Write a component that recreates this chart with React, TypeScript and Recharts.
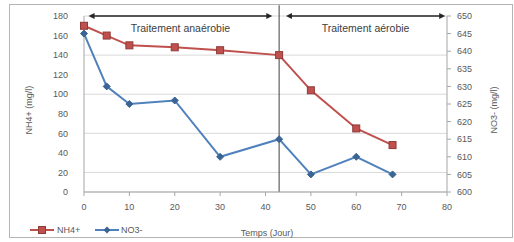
import React from 'react';
import { ComposedChart, Line, XAxis, YAxis, CartesianGrid, ReferenceLine } from 'recharts';

// temps (jour)
const days = [0, 5, 10, 20, 30, 43, 50, 60, 68];
// NH4+ (mg/l), axe gauche
const nh4 = [170, 160, 150, 148, 145, 140, 104, 65, 48];
// NO3- (mg/l), axe droit
const no3 = [645, 630, 625, 626, 610, 615, 605, 610, 605];

const xTicks = [0, 10, 20, 30, 40, 50, 60, 70, 80];
const leftTicks = [0, 20, 40, 60, 80, 100, 120, 140, 160, 180];
const rightTicks = [600, 605, 610, 615, 620, 625, 630, 635, 640, 645, 650];

// phases du traitement (début, fin, libellé)
const phaseBreak = 43;
const phases: [number, number, string][] = [
  [1, 41.5, 'Traitement anaérobie'],
  [44.5, 79.6, 'Traitement aérobie'],
];

const RED = '#C0504D';
const BLUE = '#4F81BD';
const FONT = '"Liberation Sans", Arial, sans-serif';
const tick = { fill: '#595959', fontSize: 9, fontFamily: FONT };

const data = days.map((d, i) => ({ day: d, nh4: nh4[i], no3: no3[i] }));

const Square = (props: any) => {
  const { cx, cy, index } = props;
  if (cx == null || cy == null) return <g key={index} />;
  return <rect key={index} x={cx - 3.5} y={cy - 3.5} width={7} height={7} fill={RED} stroke="#8E3A37" strokeWidth={1} />;
};

const Diamond = (props: any) => {
  const { cx, cy, index } = props;
  if (cx == null || cy == null) return <g key={index} />;
  const r = 3.5;
  return (
    <polygon
      key={index}
      points={`${cx},${cy - r} ${cx + r},${cy} ${cx},${cy + r} ${cx - r},${cy}`}
      fill="#3A6494"
      stroke="#3A6494"
    />
  );
};

const arrowShape = (label: string) => (props: any) => {
  const { x1, y1, x2, y2 } = props;
  const h = 3;
  const w = 6;
  return (
    <g>
      <line x1={x1 + 2} y1={y1} x2={x2 - 2} y2={y2} stroke="#262626" strokeWidth={1.3} />
      <polygon points={`${x1},${y1} ${x1 + w},${y1 - h} ${x1 + w},${y1 + h}`} fill="#262626" />
      <polygon points={`${x2},${y2} ${x2 - w},${y2 - h} ${x2 - w},${y2 + h}`} fill="#262626" />
      <text
        x={(x1 + x2) / 2}
        y={y1 + 16}
        textAnchor="middle"
        fill="#404040"
        fontSize={10.5}
        fontFamily={FONT}
      >
        {label}
      </text>
    </g>
  );
};

export default function App() {
  return (
    <div style={{ position: 'absolute', left: 0, top: 0, width: 514, height: 242, background: '#fff' }}>
      <div
        style={{
          position: 'absolute',
          left: 9,
          top: 4,
          width: 502,
          height: 232,
          border: '1px solid #b4b4b4',
        }}
      />
      <div style={{ position: 'absolute', left: 0, top: 0 }}>
        <ComposedChart width={514} height={242} data={data} margin={{ top: 16, right: 27, bottom: 30, left: 44 }}>
          <CartesianGrid yAxisId="left" vertical={false} stroke="#d9d9d9" strokeWidth={1} />
          <XAxis
            dataKey="day"
            type="number"
            domain={[0, 80]}
            ticks={xTicks}
            height={20}
            tick={tick}
            tickSize={4}
            tickMargin={8}
            stroke="#a6a6a6"
          />
          <YAxis
            yAxisId="left"
            domain={[0, 180]}
            ticks={leftTicks}
            width={40}
            tick={tick}
            tickLine={false}
            tickMargin={10}
            stroke="#a6a6a6"
            label={{
              content: () => (
                <text x={32} y={110} transform="rotate(-90 32 110)" textAnchor="middle" fill="#595959" fontSize={9} fontFamily={FONT}>
                  NH4+ (mg/l)
                </text>
              ),
            }}
          />
          <YAxis
            yAxisId="right"
            orientation="right"
            domain={[600, 650]}
            ticks={rightTicks}
            width={40}
            tick={tick}
            tickSize={4}
            tickMargin={6}
            stroke="#a6a6a6"
            label={{
              content: () => (
                <text x={497} y={110} transform="rotate(-90 497 110)" textAnchor="middle" fill="#595959" fontSize={9} fontFamily={FONT}>
                  NO3- (mg/l)
                </text>
              ),
            }}
          />
          <ReferenceLine
            yAxisId="left"
            segment={[
              { x: phaseBreak, y: 0 },
              { x: phaseBreak, y: 191 },
            ]}
            ifOverflow="visible"
            stroke="#404040"
            strokeWidth={1}
          />
          {phases.map(([a, b, label]) => (
            <ReferenceLine
              key={label}
              yAxisId="left"
              segment={[
                { x: a, y: 180 },
                { x: b, y: 180 },
              ]}
              ifOverflow="visible"
              shape={arrowShape(label)}
            />
          ))}
          <Line
            yAxisId="left"
            dataKey="nh4"
            stroke={RED}
            strokeWidth={2}
            dot={Square}
            isAnimationActive={false}
          />
          <Line
            yAxisId="right"
            dataKey="no3"
            stroke={BLUE}
            strokeWidth={2}
            dot={Diamond}
            isAnimationActive={false}
          />
        </ComposedChart>
      </div>
      <div style={{ position: 'absolute', left: 0, top: 0, pointerEvents: 'none' }}>
        <svg width={514} height={242}>
          <text x={267} y={236} textAnchor="middle" fill="#595959" fontSize={9} fontFamily={FONT}>
            Temps (Jour)
          </text>
          <line x1={30} y1={230} x2={54} y2={230} stroke={RED} strokeWidth={2} />
          <rect x={38.5} y={226.5} width={7} height={7} fill={RED} stroke="#8E3A37" />
          <text x={57} y={233} fill="#595959" fontSize={9} fontFamily={FONT}>
            NH4+
          </text>
          <line x1={95} y1={230} x2={119} y2={230} stroke={BLUE} strokeWidth={2} />
          <polygon points="107,226.5 110.5,230 107,233.5 103.5,230" fill="#3A6494" />
          <text x={121} y={233} fill="#595959" fontSize={9} fontFamily={FONT}>
            NO3-
          </text>
        </svg>
      </div>
    </div>
  );
}
